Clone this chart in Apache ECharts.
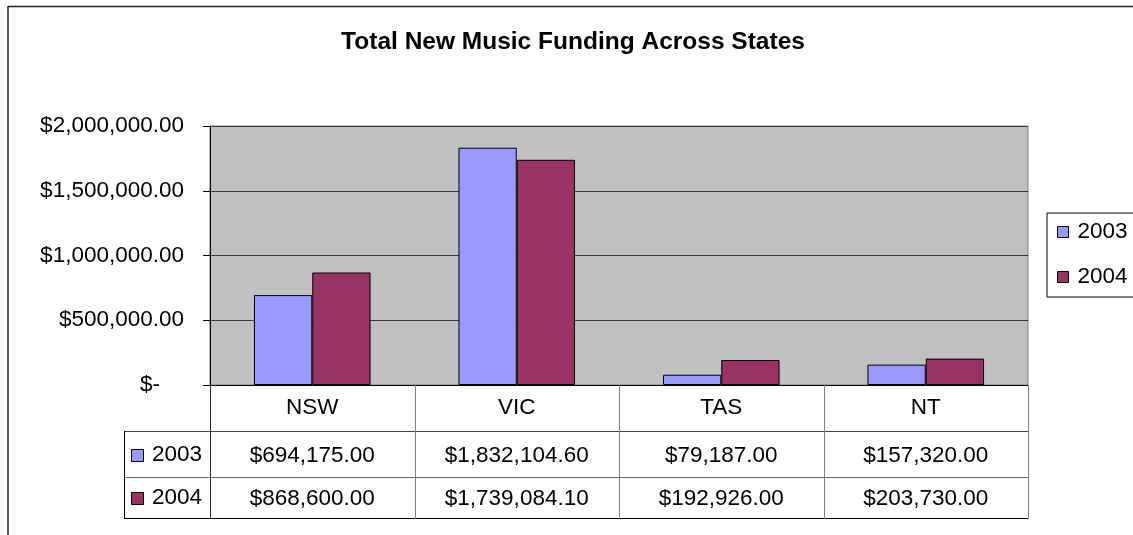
<!DOCTYPE html>
<html>
<head>
<meta charset="utf-8">
<title>Total New Music Funding Across States</title>
<script src="https://cdn.jsdelivr.net/npm/echarts@6/dist/echarts.min.js"></script>
<style>
  html, body { margin: 0; padding: 0; background: #fff; }
  #chart { width: 1133px; height: 535px; }
</style>
</head>
<body>
<div id="chart"></div>
<script>
// Funding data per state and year
const categories = ['NSW', 'VIC', 'TAS', 'NT'];
const seriesNames = ['2003', '2004'];
const funding2003 = [694175.00, 1832104.60, 79187.00, 157320.00];
const funding2004 = [868600.00, 1739084.10, 192926.00, 203730.00];
const seriesValues = [funding2003, funding2004];
const seriesColors = ['#9999FF', '#993366'];

// Value axis range
const yMin = 0;
const yMax = 2000000;
const yStep = 500000;

const FONT = '"Liberation Sans", Arial, sans-serif';
const FS = 22.5;

function money(v) {
  const parts = Math.abs(v).toFixed(2).split('.');
  return '$' + parts[0].replace(/\B(?=(\d{3})+(?!\d))/g, ',') + '.' + parts[1];
}

const chart = echarts.init(document.getElementById('chart'), null, { renderer: 'canvas' });

function tableAxis(values, offset, margin) {
  return {
    type: 'category',
    data: categories,
    position: 'bottom',
    offset: offset,
    axisLine: { show: false },
    axisTick: { show: false },
    axisLabel: {
      margin: margin,
      color: '#000',
      fontSize: FS,
      fontFamily: FONT,
      formatter: (v, i) => money(values[i])
    }
  };
}

chart.setOption({
  animation: false,
  backgroundColor: '#fff',
  title: {
    text: 'Total New Music Funding Across States',
    left: 568,
    textAlign: 'center',
    top: 25,
    textStyle: { fontFamily: FONT, fontSize: 24.5, fontWeight: 'bold', color: '#000' }
  },
  legend: {
    data: seriesNames,
    orient: 'vertical',
    left: 1047,
    top: 213,
    padding: [7, 8, 8, 10],
    itemGap: 21,
    itemWidth: 11,
    itemHeight: 11,
    icon: 'rect',
    borderColor: '#000',
    borderWidth: 1,
    itemStyle: { borderColor: '#000', borderWidth: 1 },
    textStyle: { fontFamily: FONT, fontSize: FS, color: '#000', lineHeight: 24, padding: [0, 0, 0, 4] }
  },
  grid: {
    left: 210,
    top: 126,
    right: 105,
    bottom: 150,
    show: true,
    backgroundColor: '#C0C0C0',
    borderColor: '#808080',
    borderWidth: 1
  },
  xAxis: [
    {
      type: 'category',
      data: categories,
      position: 'bottom',
      axisLine: { lineStyle: { color: '#000', width: 1 } },
      axisTick: { show: false },
      axisLabel: { margin: 11, color: '#000', fontSize: FS, fontFamily: FONT }
    },
    tableAxis(funding2003, 46, 13),
    tableAxis(funding2004, 92, 10)
  ],
  yAxis: {
    type: 'value',
    min: yMin,
    max: yMax,
    interval: yStep,
    axisLine: { show: true, lineStyle: { color: '#000', width: 1 } },
    axisTick: { show: true, length: 7, lineStyle: { color: '#000' } },
    splitLine: { lineStyle: { color: '#3a3a3a', width: 1 } },
    axisLabel: {
      margin: 26,
      color: '#000',
      fontSize: FS,
      fontFamily: FONT,
      formatter: v => v === 0 ? '{z|$-}' : money(v),
      rich: { z: { fontSize: FS, fontFamily: FONT, color: '#000', padding: [0, 24, 0, 0] } }
    }
  },
  series: seriesNames.map((name, k) => ({
    name: name,
    type: 'bar',
    xAxisIndex: 0,
    data: seriesValues[k],
    barGap: '0%',
    barCategoryGap: '43%',
    itemStyle: { color: seriesColors[k], borderColor: '#000', borderWidth: 1 }
  }))
});

// Data table grid, legend keys and the outer chart frame
function drawTable() {
  const c0 = chart.convertToPixel({ xAxisIndex: 0 }, categories[0]);
  const c1 = chart.convertToPixel({ xAxisIndex: 0 }, categories[1]);
  const step = c1 - c0;
  const x0 = c0 - step / 2;
  const xEnd = x0 + step * categories.length;
  const yBase = chart.convertToPixel({ yAxisIndex: 0 }, yMin);
  const rowTops = [yBase, yBase + 46, yBase + 92];
  const yBottom = yBase + 133;
  const keyLeft = 124;

  const g = [];
  const line = (x1, y1, x2, y2, color, w) => g.push({
    type: 'line', silent: true, z: 50,
    shape: { x1, y1, x2, y2 },
    style: { stroke: color, lineWidth: w || 1 }
  });

  // horizontal rules between rows
  line(keyLeft, rowTops[1] + 0.5, xEnd, rowTops[1] + 0.5, '#444');
  line(keyLeft, rowTops[2] + 0.5, xEnd, rowTops[2] + 0.5, '#666');
  line(keyLeft, yBottom + 0.5, xEnd, yBottom + 0.5, '#000');
  // vertical rules
  line(keyLeft + 0.5, rowTops[1], keyLeft + 0.5, yBottom + 1, '#000');
  line(Math.round(x0) + 0.5, yBase, Math.round(x0) + 0.5, yBottom + 1, '#222');
  for (let i = 1; i <= categories.length; i++) {
    const x = Math.round(x0 + step * i) + 0.5;
    line(x, yBase, x, yBottom + 1, '#808080');
  }
  // series keys in the table
  seriesNames.forEach((name, k) => {
    const top = rowTops[k + 1];
    const mid = k === 0 ? top + 24 : top + 21;
    g.push({
      type: 'rect', silent: true, z: 50,
      shape: { x: 131.5, y: mid - 5.5, width: 12, height: 12 },
      style: { fill: seriesColors[k], stroke: '#000', lineWidth: 1 }
    });
    g.push({
      type: 'text', silent: true, z: 50,
      x: 152, y: mid,
      style: { text: name, fill: '#000', font: FS + 'px ' + FONT, textVerticalAlign: 'middle' }
    });
  });
  // outer frame (top and left edges)
  line(8, 6.5, 1133, 6.5, '#222', 1.5);
  line(8, 6, 8, 535, '#222', 1.5);

  chart.setOption({ graphic: { elements: g } });
}
drawTable();
</script>
</body>
</html>
